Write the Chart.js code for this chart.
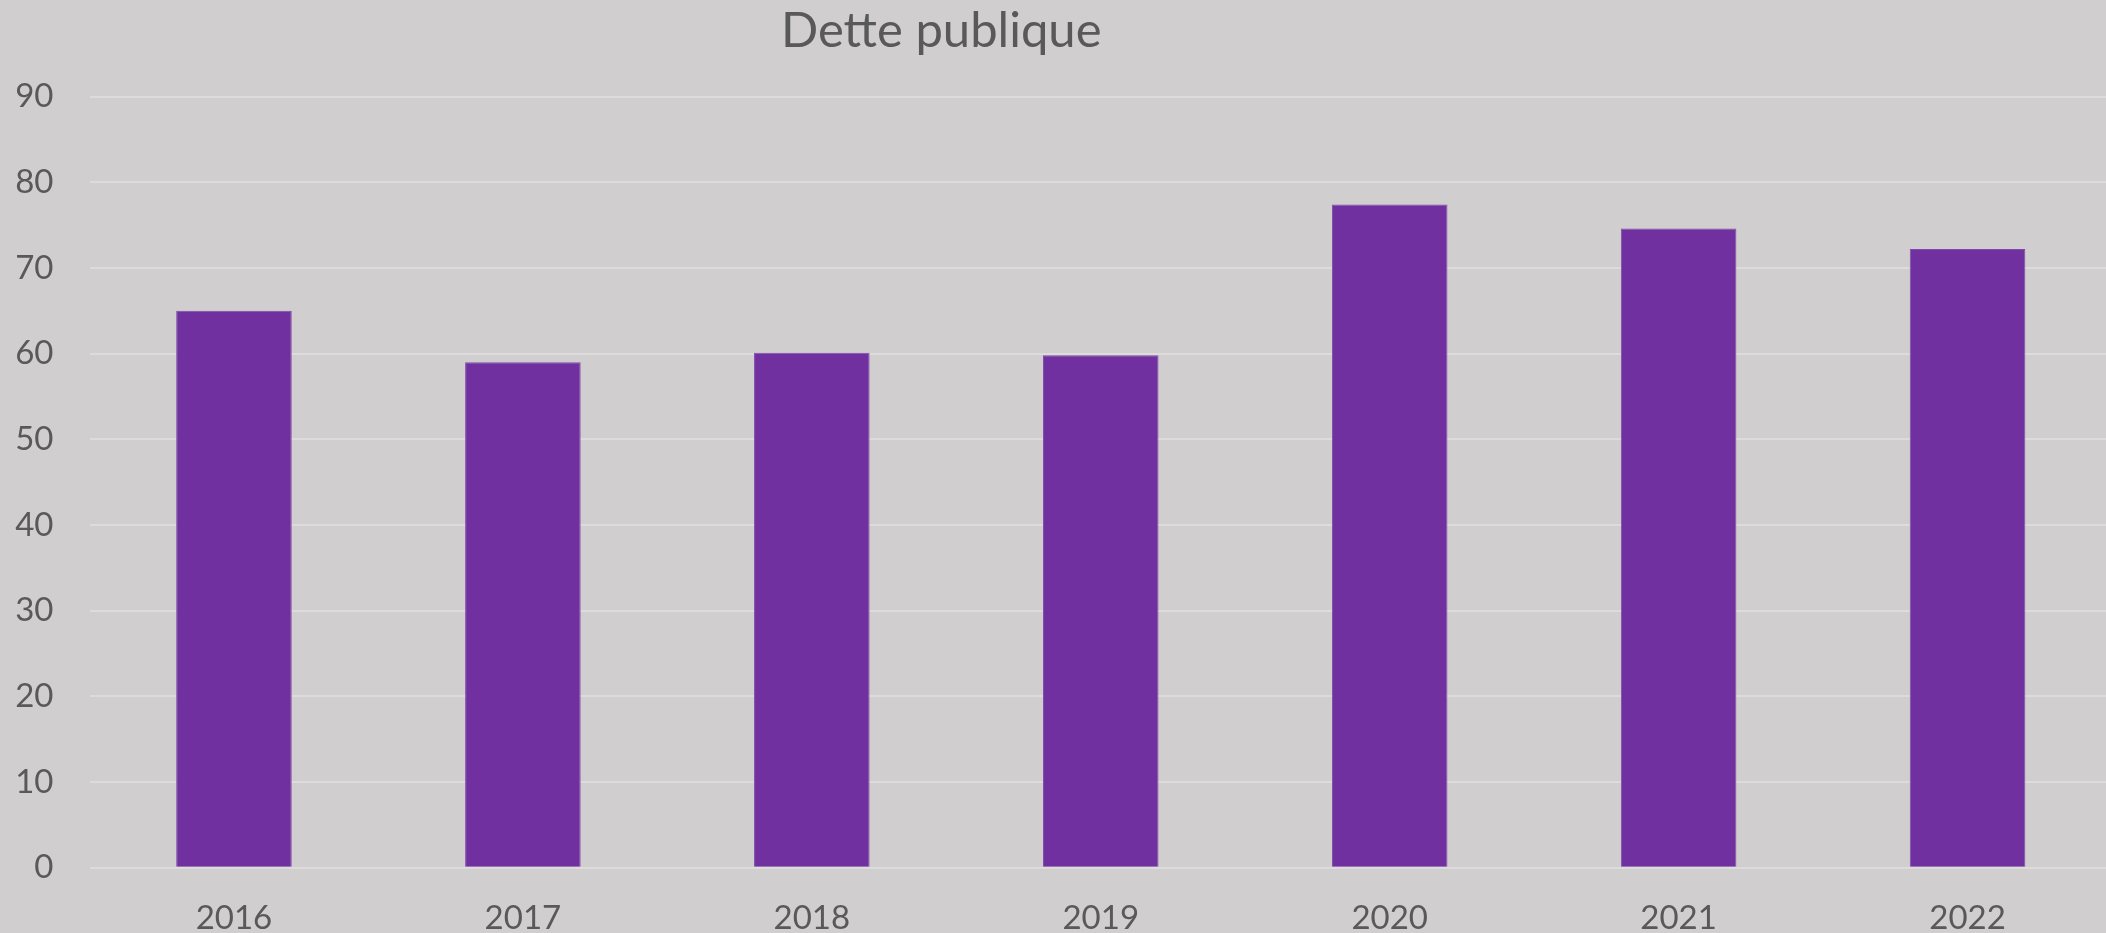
<!DOCTYPE html>
<html>
<head>
<meta charset="utf-8">
<script src="https://cdn.jsdelivr.net/npm/chart.js@4.4.1/dist/chart.umd.min.js"></script>
<style>
  html, body { margin: 0; padding: 0; background: #D0CECF; overflow: hidden; }
  #wrap { position: relative; width: 2112px; height: 933px; }
</style>
</head>
<body>
<div id="wrap"><canvas id="c"></canvas></div>
<script>
const chartTitle = "Dette publique";
const categories = ["2016", "2017", "2018", "2019", "2020", "2021", "2022"];
const debtValues = [65.0, 59.0, 60.1, 59.8, 77.4, 74.6, 72.2];
const yMin = 0, yMax = 90, yStep = 10;

const textColor = "#595959";
const fontFamily = "Lato, 'Open Sans', sans-serif";

const titlePlugin = {
  id: "customTitle",
  afterDraw(chart) {
    const ctx = chart.ctx;
    ctx.save();
    ctx.font = "49px " + fontFamily;
    ctx.fillStyle = textColor;
    ctx.textAlign = "left";
    ctx.textBaseline = "alphabetic";
    ctx.fillText(chartTitle, 781, 47);
    ctx.restore();
  }
};

new Chart(document.getElementById("c"), {
  type: "bar",
  data: {
    labels: categories,
    datasets: [{
      label: chartTitle,
      data: debtValues,
      backgroundColor: "#7030A0",
      borderColor: "#7F4AAB",
      borderWidth: 1,
      categoryPercentage: 1.0,
      barPercentage: 0.4
    }]
  },
  options: {
    responsive: true,
    maintainAspectRatio: false,
    animation: false,
    layout: { padding: { top: 96.5, right: 0, bottom: 0, left: 0 } },
    plugins: {
      legend: { display: false },
      title: { display: false },
      tooltip: { enabled: false }
    },
    scales: {
      x: {
        grid: { display: false, drawTicks: false },
        border: { display: false },
        ticks: { color: textColor, font: { family: fontFamily, size: 33 }, padding: 31 },
        afterFit(scale) { scale.height = 65.3; }
      },
      y: {
        min: yMin, max: yMax,
        grid: { color: "#DDDBDC", lineWidth: 2, drawTicks: false },
        border: { display: false },
        ticks: { stepSize: yStep, color: textColor, font: { family: fontFamily, size: 33 }, padding: 36 },
        afterFit(scale) { scale.width = 89.5; }
      }
    }
  },
  plugins: [titlePlugin]
});
</script>
</body>
</html>
